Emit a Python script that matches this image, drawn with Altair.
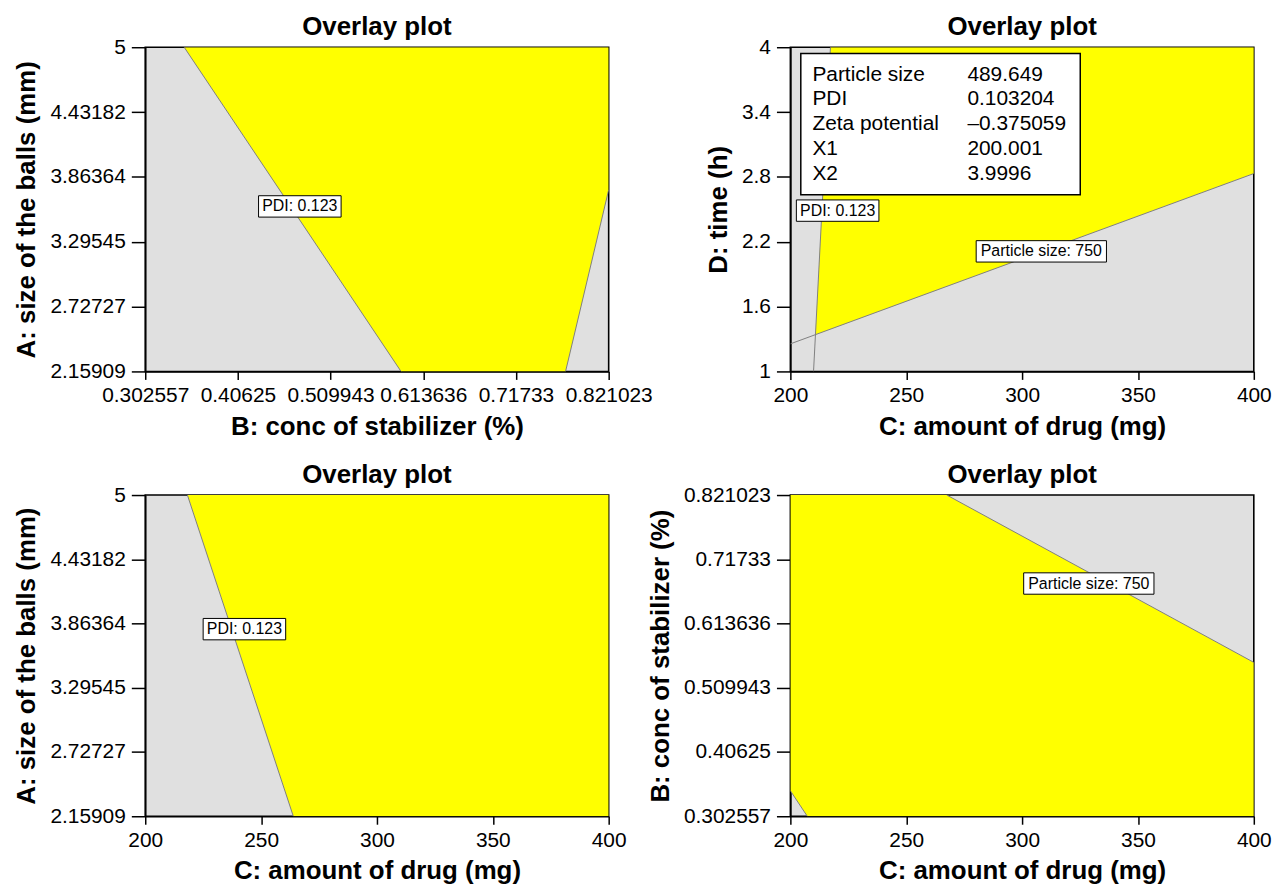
import altair as alt
import pandas as pd

FONT = "Liberation Sans"
YELLOW = "#FFFF00"
GRAY_BG = "#E0E0E0"
LINE_GRAY = "#7F7F7F"

# ---------------- axis ticks ----------------
A_TICKS = [2.15909, 2.72727, 3.29545, 3.86364, 4.43182, 5]
B_TICKS = [0.302557, 0.40625, 0.509943, 0.613636, 0.71733, 0.821023]
C_TICKS = [200, 250, 300, 350, 400]
D_TICKS = [1, 1.6, 2.2, 2.8, 3.4, 4]

A_TITLE = "A: size of the balls (mm)"
B_TITLE = "B: conc of stabilizer (%)"
C_TITLE = "C: amount of drug (mg)"
D_TITLE = "D: time (h)"

# ---------------- panel 1 : B (x) vs A (y) ----------------
p1_region_x = [0.3461, 0.821023, 0.821023, 0.7728, 0.5887]
p1_region_y = [5, 5, 3.75, 2.15909, 2.15909]
p1_pdi_x = [0.3461, 0.5887]
p1_pdi_y = [5, 2.15909]
p1_right_x = [0.821023, 0.7728]
p1_right_y = [3.75, 2.15909]
p1_labels = [("PDI: 0.123", 0.4755, 3.605)]

# ---------------- panel 2 : C (x) vs D (y) ----------------
p2_region_x = [217.3, 400, 400, 210.8]
p2_region_y = [4, 4, 2.831, 1.34]
p2_pdi_x = [217.3, 210.0]
p2_pdi_y = [4, 1]
p2_ps_x = [200, 400]
p2_ps_y = [1.255, 2.831]
p2_labels = [("PDI: 0.123", 220.4, 2.488), ("Particle size: 750", 308.3, 2.111)]
info_names = ["Particle size", "PDI", "Zeta potential", "X1", "X2"]
info_values = ["489.649", "0.103204", "\u20130.375059", "200.001", "3.9996"]
info_row_y = [3.691, 3.461, 3.231, 3.001, 2.771]
info_name_x = 209.5
info_value_x = 276.4
info_box_center = (264.8, 3.289)

# ---------------- panel 3 : C (x) vs A (y) ----------------
p3_region_x = [218.2, 400, 400, 263.9]
p3_region_y = [5, 5, 2.15909, 2.15909]
p3_pdi_x = [218.2, 263.9]
p3_pdi_y = [5, 2.15909]
p3_labels = [("PDI: 0.123", 242.8, 3.814)]

# ---------------- panel 4 : C (x) vs B (y) ----------------
p4_region_x = [200, 267.5, 400, 400, 207.3, 200]
p4_region_y = [0.821023, 0.821023, 0.5509, 0.302557, 0.302557, 0.3438]
p4_ps_x = [267.5, 400]
p4_ps_y = [0.821023, 0.5509]
p4_corner_x = [200, 207.3]
p4_corner_y = [0.3438, 0.302557]
p4_labels = [("Particle size: 750", 328.8, 0.6782)]


def box_path(w, h):
    r = h / w
    return f"M-1,-{r:.4f}L1,-{r:.4f}L1,{r:.4f}L-1,{r:.4f}Z"


BOX_W = {"PDI: 0.123": 83, "Particle size: 750": 131}
BOX_H = 21.5


def make_panel(xdom, xticks, xtitle, ydom, yticks, ytitle, region, lines, labels,
               width, height, extra_layers=None):
    X = alt.X("x:Q", scale=alt.Scale(domain=xdom, nice=False, zero=False),
              axis=alt.Axis(values=xticks, format=".6~r", title=xtitle))
    Y = alt.Y("y:Q", scale=alt.Scale(domain=ydom, nice=False, zero=False),
              axis=alt.Axis(values=yticks, format=".6~r", title=ytitle))

    reg_df = pd.DataFrame({"x": region[0], "y": region[1], "o": list(range(len(region[0])))})
    layers = [
        alt.Chart(reg_df).mark_line(fill=YELLOW, strokeOpacity=0, interpolate="linear-closed",
                                    clip=True).encode(x=X, y=Y, order="o:Q")
    ]

    rows = []
    for i, (lx, ly) in enumerate(lines):
        for j in range(len(lx)):
            rows.append({"x": lx[j], "y": ly[j], "id": i, "o": j})
    line_df = pd.DataFrame(rows)
    layers.append(
        alt.Chart(line_df).mark_line(color=LINE_GRAY, strokeWidth=1, clip=True)
        .encode(x=X, y=Y, detail="id:N", order="o:Q")
    )

    for text, lx, ly in labels:
        df = pd.DataFrame({"x": [lx], "y": [ly], "t": [text]})
        w = BOX_W[text]
        layers.append(
            alt.Chart(df).mark_point(shape=box_path(w, BOX_H), size=w * w, filled=True,
                                     fill="white", stroke="black", strokeWidth=1, opacity=1)
            .encode(x=X, y=Y)
        )
        layers.append(
            alt.Chart(df).mark_text(font=FONT, fontSize=16, color="black", align="center",
                                    baseline="middle")
            .encode(x=X, y=Y, text="t:N")
        )

    if extra_layers:
        layers.extend(extra_layers(X, Y))

    return alt.layer(*layers).properties(
        width=width, height=height,
        title=alt.TitleParams("Overlay plot", font=FONT, fontSize=26, fontWeight="bold",
                              color="black", anchor="middle", frame="group", offset=-4),
    )


def info_layers(X, Y):
    bw, bh = 281, 142
    box_df = pd.DataFrame({"x": [info_box_center[0]], "y": [info_box_center[1]]})
    name_df = pd.DataFrame({"x": [info_name_x] * len(info_names), "y": info_row_y, "t": info_names})
    val_df = pd.DataFrame({"x": [info_value_x] * len(info_values), "y": info_row_y, "t": info_values})
    return [
        alt.Chart(box_df).mark_point(shape=box_path(bw, bh), size=bw * bw, filled=True,
                                     fill="white", stroke="black", strokeWidth=1.5, opacity=1)
        .encode(x=X, y=Y),
        alt.Chart(name_df).mark_text(font=FONT, fontSize=21, color="black", align="left",
                                     baseline="alphabetic").encode(x=X, y=Y, text="t:N"),
        alt.Chart(val_df).mark_text(font=FONT, fontSize=21, color="black", align="left",
                                    baseline="alphabetic").encode(x=X, y=Y, text="t:N"),
    ]


W = 466
p1 = make_panel([B_TICKS[0], B_TICKS[-1]], B_TICKS, B_TITLE, [A_TICKS[0], A_TICKS[-1]], A_TICKS, A_TITLE,
                (p1_region_x, p1_region_y), [(p1_pdi_x, p1_pdi_y), (p1_right_x, p1_right_y)],
                p1_labels, W, 326)
p2 = make_panel([C_TICKS[0], C_TICKS[-1]], C_TICKS, C_TITLE, [D_TICKS[0], D_TICKS[-1]], D_TICKS, D_TITLE,
                (p2_region_x, p2_region_y), [(p2_pdi_x, p2_pdi_y), (p2_ps_x, p2_ps_y)],
                p2_labels, W, 326, extra_layers=info_layers)
p3 = make_panel([C_TICKS[0], C_TICKS[-1]], C_TICKS, C_TITLE, [A_TICKS[0], A_TICKS[-1]], A_TICKS, A_TITLE,
                (p3_region_x, p3_region_y), [(p3_pdi_x, p3_pdi_y)],
                p3_labels, W, 323)
p4 = make_panel([C_TICKS[0], C_TICKS[-1]], C_TICKS, C_TITLE, [B_TICKS[0], B_TICKS[-1]], B_TICKS, B_TITLE,
                (p4_region_x, p4_region_y), [(p4_ps_x, p4_ps_y), (p4_corner_x, p4_corner_y)],
                p4_labels, W, 323)

chart = alt.ConcatChart(
    concat=[p1, p2, p3, p4], columns=2,
    spacing={"row": 124.3, "column": 182.7}, bounds="flush",
).properties(padding={"left": 5, "top": 3, "right": 0, "bottom": 0}, background="white").configure_view(
    fill=GRAY_BG, stroke="black", strokeWidth=1.6
).configure_axis(
    domainColor="black", domainWidth=1.6, tickColor="black", tickWidth=1.5,
    labelFont=FONT, labelFontSize=21, labelColor="black", labelOverlap=False,
    labelFlush=False, titleFont=FONT, titleFontSize=26, titleFontWeight="bold",
    titleColor="black", grid=False,
).configure_axisX(
    tickSize=8, labelPadding=5, titlePadding=8,
).configure_axisY(
    tickSize=14, labelPadding=6, titlePadding=10,
)

chart.save("out.html", embed_options={"renderer": "svg", "actions": False})
